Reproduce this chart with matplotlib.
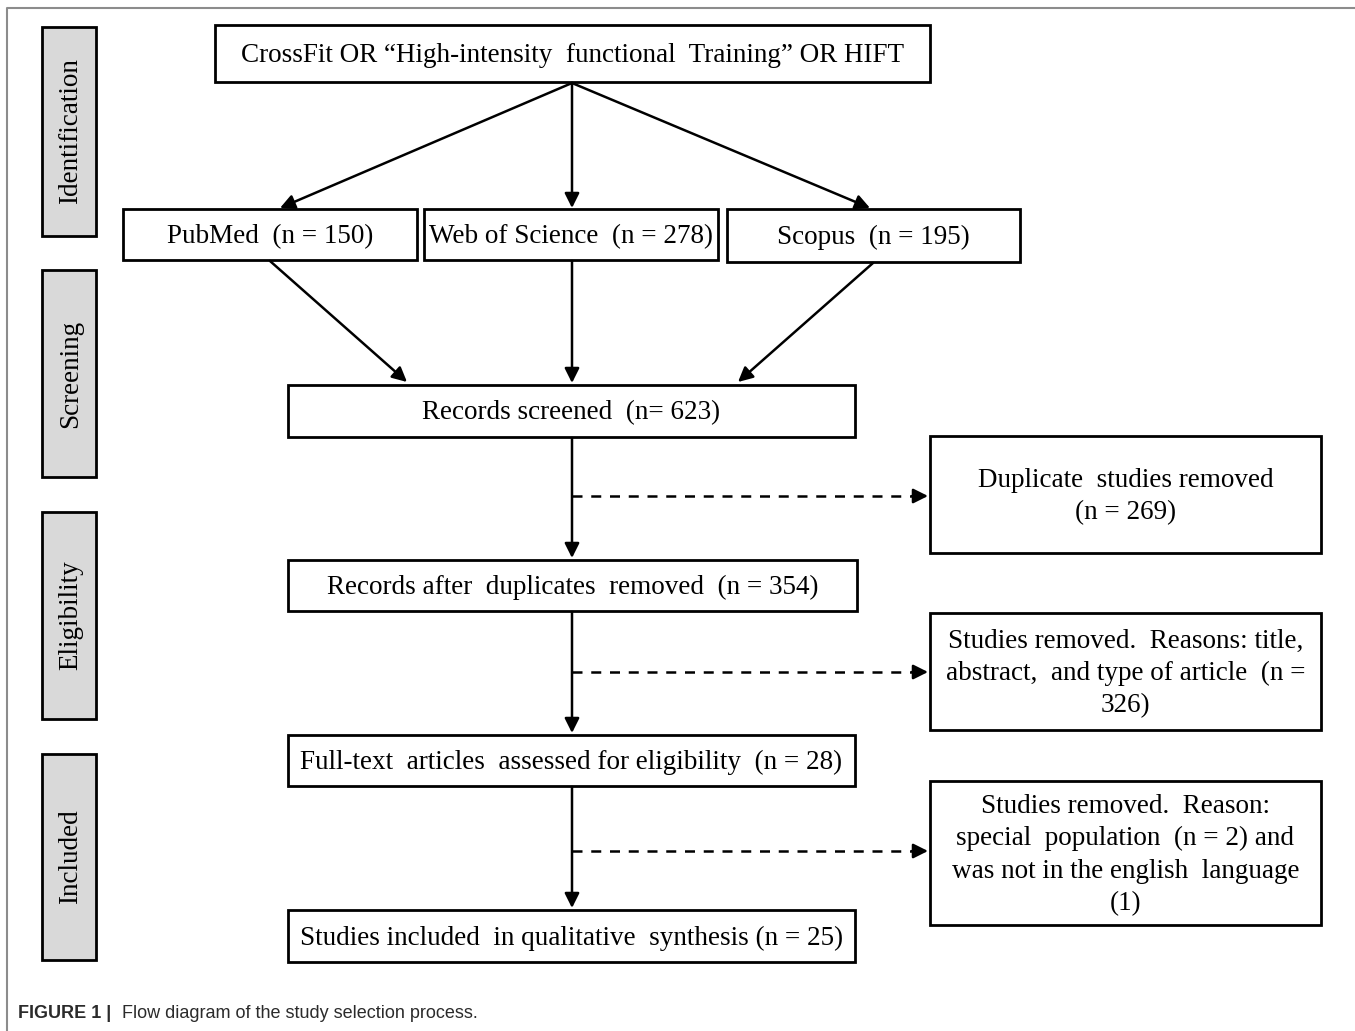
import matplotlib.pyplot as plt
from matplotlib.patches import Rectangle

# stages on the left
stages = ["Identification", "Screening", "Eligibility", "Included"]
stage_y = [(27, 236), (270, 477), (512, 719), (754, 960)]

# main flow boxes: text, (x0, y0, x1, y1)
boxes = [
    ("CrossFit OR \u201cHigh-intensity  functional  Training\u201d OR HIFT", (215, 25, 930, 82)),
    ("PubMed  (n = 150)", (123, 209, 417, 260)),
    ("Web of Science  (n = 278)", (424, 209, 718, 260)),
    ("Scopus  (n = 195)", (727, 209, 1020, 262)),
    ("Records screened  (n= 623)", (288, 385, 855, 437)),
    ("Records after  duplicates  removed  (n = 354)", (288, 560, 857, 611)),
    ("Full-text  articles  assessed for eligibility  (n = 28)", (288, 735, 855, 786)),
    ("Studies included  in qualitative  synthesis (n = 25)", (288, 910, 855, 962)),
]

# exclusion boxes on the right
side_boxes = [
    ("Duplicate  studies removed\n(n = 269)", (930, 436, 1321, 553)),
    ("Studies removed.  Reasons: title,\nabstract,  and type of article  (n =\n326)", (930, 613, 1321, 730)),
    ("Studies removed.  Reason:\nspecial  population  (n = 2) and\nwas not in the english  language\n(1)", (930, 781, 1321, 925)),
]

# solid arrows (start, end)
arrows = [
    ((572, 83), (280, 208)),
    ((572, 83), (572, 208)),
    ((572, 83), (870, 208)),
    ((270, 261), (407, 382)),
    ((572, 261), (572, 383)),
    ((873, 263), (738, 382)),
    ((572, 438), (572, 558)),
    ((572, 612), (572, 733)),
    ((572, 787), (572, 908)),
]
# dashed arrows y level
dashed_y = [496, 672, 851]

serif = "Liberation Serif"
fs = 19.5

fig = plt.figure(figsize=(13.55, 10.31), dpi=100)
ax = fig.add_axes([0, 0, 1, 1])
ax.set_xlim(0, 1355)
ax.set_ylim(1031, 0)
ax.axis("off")

# outer frame (left and top only)
ax.plot([7, 7, 1355], [1031, 8, 8], color="#8c8c8c", lw=1.5)

for name, (y0, y1) in zip(stages, stage_y):
    ax.add_patch(Rectangle((42, y0), 54, y1 - y0, facecolor="#d9d9d9",
                           edgecolor="black", lw=2))
    ax.text(71, (y0 + y1) / 2, name, rotation=90, ha="center", va="center",
            fontsize=fs, family=serif)

for txt, (x0, y0, x1, y1) in boxes + side_boxes:
    ax.add_patch(Rectangle((x0, y0), x1 - x0, y1 - y0, facecolor="white",
                           edgecolor="black", lw=2))
    ax.text((x0 + x1) / 2, (y0 + y1) / 2 + 2, txt, ha="center", va="center",
            fontsize=fs, family=serif, linespacing=1.38)

for (xs, ys), (xe, ye) in arrows:
    ax.annotate("", xy=(xe, ye), xytext=(xs, ys),
                arrowprops=dict(arrowstyle="-|>", color="black", lw=1.8,
                                mutation_scale=22, shrinkA=0, shrinkB=0))

for y in dashed_y:
    ax.plot([572, 912], [y, y], color="black", lw=1.8, ls=(0, (4, 3.5)))
    ax.annotate("", xy=(928, y), xytext=(912, y),
                arrowprops=dict(arrowstyle="-|>", color="black", lw=1.8,
                                mutation_scale=22, shrinkA=0, shrinkB=0))

ax.text(18, 1013, "FIGURE 1 |", ha="left", va="center", fontsize=13,
        family="Liberation Sans", weight="bold", color="#2b2b2b")
ax.text(122, 1013, "Flow diagram of the study selection process.", ha="left",
        va="center", fontsize=13, family="Liberation Sans", color="#2b2b2b")

fig.savefig("out.png", dpi=100)
